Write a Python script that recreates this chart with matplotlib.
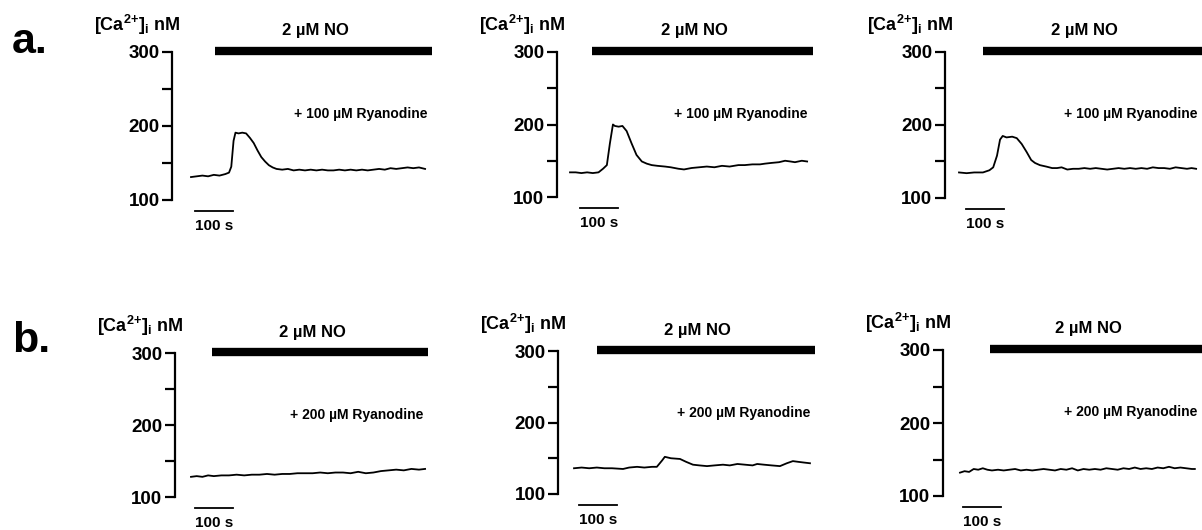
import matplotlib.pyplot as plt

plt.rcParams['font.family'] = 'Liberation Sans'
plt.rcParams['font.weight'] = 'bold'
plt.rcParams['mathtext.fontset'] = 'custom'
plt.rcParams['mathtext.rm'] = 'Liberation Sans:bold'
plt.rcParams['mathtext.it'] = 'Liberation Sans:bold'
plt.rcParams['mathtext.bf'] = 'Liberation Sans:bold'

W, H = 1202, 530
PX_PER_S = 0.38   # horizontal scale: 38 px = 100 s

# ---- data: time (s from trace start) and [Ca2+]i (nM) ----
t_a1 = [0, 15, 30, 45, 60, 75, 90, 100, 106, 112, 117, 125, 135, 145, 155, 165, 175, 185, 195, 205,
        215, 225, 240, 255, 270, 285, 300, 315, 330, 345, 360, 375, 390, 405, 420, 435, 450, 465, 480, 495,
        510, 525, 540, 555, 570, 585, 600, 616]
v_a1 = [131, 132, 133, 132, 134, 133, 135, 137, 145, 180, 191, 190, 191, 190, 184, 177, 167, 158, 152, 147,
        144, 142, 141, 142, 140, 141, 140, 141, 140, 141, 140, 140, 141, 140, 141, 140, 141, 140, 141, 142,
        141, 143, 142, 143, 144, 143, 144, 142]

t_a2 = [0, 15, 30, 45, 60, 75, 87, 97, 105, 113, 118, 128, 138, 149, 162, 175, 189, 202, 215, 230,
        250, 265, 285, 300, 320, 340, 360, 380, 400, 420, 443, 460, 480, 500, 513, 530, 550, 566, 580, 592,
        610, 624]
v_a2 = [134, 134, 133, 134, 133, 134, 139, 144, 174, 200, 198, 197, 198, 191, 174, 158, 149, 146, 144, 143,
        142, 141, 139, 138, 140, 141, 142, 141, 143, 142, 144, 144, 145, 145, 146, 147, 148, 150, 149, 148,
        150, 149]

t_a3 = [0, 20, 40, 63, 80, 90, 100, 108, 115, 125, 140, 152, 165, 178, 190, 200, 213, 230, 245, 258,
        270, 285, 300, 315, 330, 345, 360, 375, 390, 405, 420, 435, 450, 465, 480, 495, 510, 525, 540, 555,
        570, 585, 600, 612, 624]
v_a3 = [135, 134, 135, 135, 138, 142, 158, 180, 185, 183, 184, 182, 174, 163, 152, 148, 145, 143, 141, 141,
        142, 139, 140, 140, 141, 140, 141, 140, 139, 140, 141, 140, 141, 140, 141, 140, 142, 141, 141, 140,
        142, 141, 140, 141, 140]

t_b1 = [0, 15, 30, 45, 60, 80, 100, 120, 140, 160, 180, 200, 220, 240, 260, 280, 300, 320, 340, 360,
        380, 400, 420, 440, 460, 480, 500, 520, 540, 560, 580, 600, 616]
v_b1 = [128, 129, 128, 130, 129, 130, 130, 131, 130, 131, 131, 132, 131, 132, 132, 133, 133, 133, 134, 133,
        134, 134, 133, 135, 133, 134, 136, 137, 138, 137, 139, 138, 139]

t_b2 = [0, 20, 40, 60, 80, 100, 129, 145, 166, 185, 205, 218, 232, 239, 255, 279, 295, 313, 330, 350,
        370, 392, 410, 430, 450, 470, 482, 500, 520, 542, 560, 576, 590, 605, 621]
v_b2 = [136, 137, 136, 137, 136, 136, 135, 137, 138, 137, 138, 138, 147, 152, 150, 149, 145, 141, 140, 139,
        140, 141, 140, 142, 141, 140, 142, 141, 140, 139, 143, 146, 145, 144, 143]

t_b3 = [0, 12, 24, 36, 48, 60, 72, 84, 100, 115, 130, 145, 160, 175, 190, 205, 220, 235, 250, 265,
        280, 295, 310, 325, 340, 355, 370, 385, 400, 415, 430, 445, 460, 475, 490, 505, 520, 535, 550, 565,
        580, 595, 610, 618]
v_b3 = [132, 134, 133, 137, 136, 138, 136, 135, 136, 135, 136, 137, 135, 136, 135, 136, 137, 136, 135, 137,
        136, 138, 135, 137, 136, 137, 136, 138, 137, 136, 138, 137, 139, 137, 138, 137, 139, 138, 140, 138,
        139, 138, 137, 137]

traces = [(t_a1, v_a1), (t_a2, v_a2), (t_a3, v_a3), (t_b1, v_b1), (t_b2, v_b2), (t_b3, v_b3)]
ryanodine = ['100', '100', '100', '200', '200', '200']
no_on = [63, 58, 63, 55, 60, 79]
no_off = [634, 639, 639, 624, 634, 637]
scale_s = 100

# ---- layout in pixels: spine x, trace start x, right edge, y of 300, y of 100, scale bar start x ----
layout = [
    (172, 191, 432, 52, 200, 195),
    (557, 570, 813, 52, 197, 580),
    (945, 959, 1202, 52, 198, 966),
    (175, 191, 428, 353, 497, 195),
    (558, 574, 815, 351, 494, 579),
    (943, 960, 1202, 350, 496, 963),
]

fig = plt.figure(figsize=(W / 100, H / 100), dpi=100)

for i, (sx, st, right, y3, y1, sb) in enumerate(layout):
    ax = fig.add_axes([sx / W, 1 - y1 / H, (right - sx) / W, (y1 - y3) / H])
    ax.set_ylim(100, 300)
    ax.set_xlim(-(st - sx) / PX_PER_S, (right - st) / PX_PER_S)

    def px(xp, yp):
        return (xp - st) / PX_PER_S, 100 + (y1 - yp) * 200.0 / (y1 - y3)

    for s in ['top', 'right', 'bottom']:
        ax.spines[s].set_visible(False)
    ax.spines['left'].set_linewidth(1.6)
    ax.set_xticks([])
    ax.set_yticks([100, 150, 200, 250, 300])
    ax.set_yticklabels(['100', '', '200', '', '300'])
    ax.tick_params(axis='y', length=7, width=1.6, pad=2, labelsize=13.5)
    ax.patch.set_visible(False)

    t, v = traces[i]
    ax.plot(t, v, color='black', lw=1.3)

    # NO application bar
    ax.plot([no_on[i], no_off[i]], [302, 302], color='black', lw=6,
            solid_capstyle='butt', clip_on=False)
    bx = st + (no_on[i] + no_off[i]) / 2 * PX_PER_S - 8
    ax.text(*px(bx, y3 - 21), '2 \u00b5M NO', ha='center', va='center', fontsize=12)

    ax.text(*px(right - 5, y3 + 62), '+ %s \u00b5M Ryanodine' % ryanodine[i],
            ha='right', va='center', fontsize=10)

    ax.text(*px(sx + 8, y3 - 27), r'[Ca$^{2{+}}$]$_{\rm i}$ nM', ha='right', va='center', fontsize=13)

    # time scale bar
    t0 = (sb - st) / PX_PER_S
    _, yb = px(sb, y1 + 11)
    ax.plot([t0, t0 + scale_s], [yb, yb], color='black', lw=1.3, clip_on=False)
    ax.text(*px(sb + scale_s * PX_PER_S / 2, y1 + 26), '%d s' % scale_s,
            ha='center', va='center', fontsize=11)

fig.text(12 / W, 1 - 53 / H, 'a.', fontsize=31, va='baseline', ha='left')
fig.text(12 / W, 1 - 352 / H, 'b.', fontsize=31, va='baseline', ha='left')

fig.savefig('out.png', dpi=100)
